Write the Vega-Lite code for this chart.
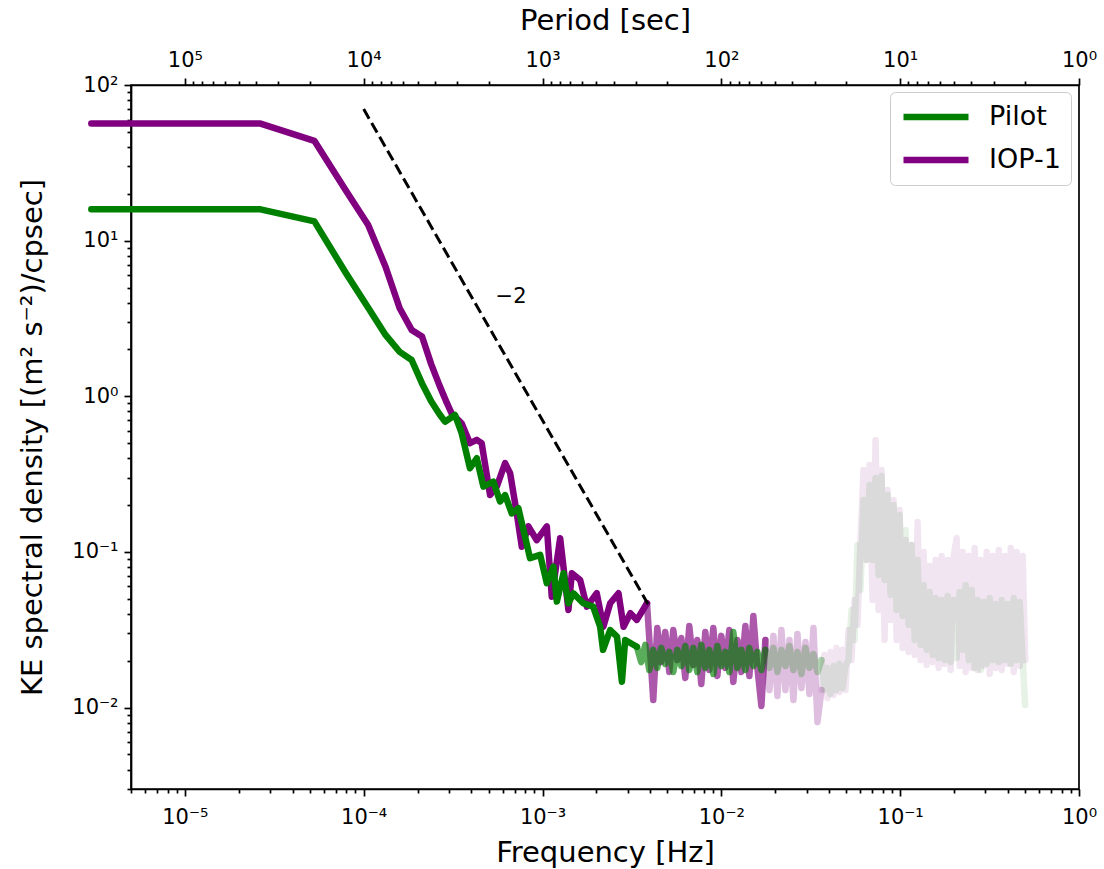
{
  "$schema": "https://vega.github.io/schema/vega-lite/v6.json",
  "width": 948,
  "height": 704,
  "autosize": {"type": "none"},
  "padding": {"left": 131, "top": 85, "right": 25, "bottom": 80},
  "background": "white",
  "config": {
    "font": "DejaVu Sans",
    "view": {"stroke": "black", "strokeWidth": 1.7},
    "axis": {
      "grid": false,
      "domainColor": "black",
      "domainWidth": 1.7,
      "tickColor": "black",
      "tickWidth": 1.7,
      "labelFont": "DejaVu Sans",
      "labelFontSize": 21,
      "labelColor": "black",
      "titleFont": "DejaVu Sans",
      "titleFontSize": 29,
      "titleFontWeight": "normal",
      "titleColor": "black",
      "labelOverlap": false,
      "labelFlush": false
    },
    "legend": {
      "symbolType": "stroke", "symbolSize": 4225, "symbolStrokeWidth": 6.5, "symbolOpacity": 1,
      "labelFont": "DejaVu Sans", "labelFontSize": 27, "labelColor": "black", "labelOffset": 17,
      "padding": 10, "strokeColor": "#cccccc", "fillColor": "rgba(255,255,255,0.8)",
      "cornerRadius": 5, "clipHeight": 30, "rowPadding": 13
    },
    "line": {"strokeWidth": 6.5, "strokeJoin": "round", "strokeCap": "round", "clip": true}
  },
  "datasets": {
    "spectra": [
      {"series":"IOP-1","seg":"a","f":3e-6,"psd":56.5},
      {"series":"IOP-1","seg":"a","f":2.65e-5,"psd":56.5},
      {"series":"IOP-1","seg":"a","f":5.3e-5,"psd":43.8},
      {"series":"IOP-1","seg":"a","f":7.95e-5,"psd":21},
      {"series":"IOP-1","seg":"a","f":1.06e-4,"psd":12.6},
      {"series":"IOP-1","seg":"a","f":1.325e-4,"psd":6.8},
      {"series":"IOP-1","seg":"a","f":1.59e-4,"psd":3.68},
      {"series":"IOP-1","seg":"a","f":1.855e-4,"psd":2.67},
      {"series":"IOP-1","seg":"a","f":2.12e-4,"psd":2.42},
      {"series":"IOP-1","seg":"a","f":2.385e-4,"psd":1.61},
      {"series":"IOP-1","seg":"a","f":2.65e-4,"psd":1.18},
      {"series":"IOP-1","seg":"a","f":2.915e-4,"psd":0.91},
      {"series":"IOP-1","seg":"a","f":3.1e-4,"psd":0.778},
      {"series":"IOP-1","seg":"a","f":3.53e-4,"psd":0.671},
      {"series":"IOP-1","seg":"a","f":3.93e-4,"psd":0.5},
      {"series":"IOP-1","seg":"a","f":4.29e-4,"psd":0.525},
      {"series":"IOP-1","seg":"a","f":4.57e-4,"psd":0.5},
      {"series":"IOP-1","seg":"a","f":5.09e-4,"psd":0.232},
      {"series":"IOP-1","seg":"a","f":5.55e-4,"psd":0.263},
      {"series":"IOP-1","seg":"a","f":6.18e-4,"psd":0.372},
      {"series":"IOP-1","seg":"a","f":6.59e-4,"psd":0.321},
      {"series":"IOP-1","seg":"a","f":7.18e-4,"psd":0.177},
      {"series":"IOP-1","seg":"a","f":7.66e-4,"psd":0.108},
      {"series":"IOP-1","seg":"a","f":8.34e-4,"psd":0.146},
      {"series":"IOP-1","seg":"a","f":9.29e-4,"psd":0.119},
      {"series":"IOP-1","seg":"a","f":1.057e-3,"psd":0.146},
      {"series":"IOP-1","seg":"a","f":1.127e-3,"psd":0.0516},
      {"series":"IOP-1","seg":"a","f":1.255e-3,"psd":0.1225},
      {"series":"IOP-1","seg":"a","f":1.396e-3,"psd":0.0424},
      {"series":"IOP-1","seg":"a","f":1.459e-3,"psd":0.073},
      {"series":"IOP-1","seg":"a","f":1.624e-3,"psd":0.0661},
      {"series":"IOP-1","seg":"a","f":1.77e-3,"psd":0.0445},
      {"series":"IOP-1","seg":"a","f":2.01e-3,"psd":0.0543},
      {"series":"IOP-1","seg":"a","f":2.19e-3,"psd":0.0331},
      {"series":"IOP-1","seg":"a","f":2.39e-3,"psd":0.0468},
      {"series":"IOP-1","seg":"a","f":2.66e-3,"psd":0.0543},
      {"series":"IOP-1","seg":"a","f":2.84e-3,"psd":0.0331},
      {"series":"IOP-1","seg":"a","f":3.1e-3,"psd":0.0404},
      {"series":"IOP-1","seg":"a","f":3.37e-3,"psd":0.0366},
      {"series":"IOP-1","seg":"a","f":3.84e-3,"psd":0.0468},
      {"series":"IOP-1","seg":"b","f":3.84e-3,"psd":0.0468},
      {"series":"IOP-1","seg":"b","f":4.162e-3,"psd":0.0112},
      {"series":"IOP-1","seg":"b","f":4.382e-3,"psd":0.0325},
      {"series":"IOP-1","seg":"b","f":4.614e-3,"psd":0.0196},
      {"series":"IOP-1","seg":"b","f":4.858e-3,"psd":0.0306},
      {"series":"IOP-1","seg":"b","f":5.115e-3,"psd":0.01693},
      {"series":"IOP-1","seg":"b","f":5.386e-3,"psd":0.0315},
      {"series":"IOP-1","seg":"b","f":5.671e-3,"psd":0.0202},
      {"series":"IOP-1","seg":"b","f":5.971e-3,"psd":0.028},
      {"series":"IOP-1","seg":"b","f":6.287e-3,"psd":0.0155},
      {"series":"IOP-1","seg":"b","f":6.62e-3,"psd":0.0334},
      {"series":"IOP-1","seg":"b","f":6.97e-3,"psd":0.0188},
      {"series":"IOP-1","seg":"b","f":7.339e-3,"psd":0.0272},
      {"series":"IOP-1","seg":"b","f":7.727e-3,"psd":0.01418},
      {"series":"IOP-1","seg":"b","f":8.136e-3,"psd":0.0306},
      {"series":"IOP-1","seg":"b","f":8.567e-3,"psd":0.01744},
      {"series":"IOP-1","seg":"b","f":9.02e-3,"psd":0.0325},
      {"series":"IOP-1","seg":"b","f":9.497e-3,"psd":0.01596},
      {"series":"IOP-1","seg":"b","f":0.01,"psd":0.0289},
      {"series":"IOP-1","seg":"b","f":0.010529,"psd":0.018},
      {"series":"IOP-1","seg":"b","f":0.011086,"psd":0.0315},
      {"series":"IOP-1","seg":"b","f":0.011673,"psd":0.01461},
      {"series":"IOP-1","seg":"b","f":0.012291,"psd":0.0272},
      {"series":"IOP-1","seg":"b","f":0.012941,"psd":0.01693},
      {"series":"IOP-1","seg":"b","f":0.013626,"psd":0.0334},
      {"series":"IOP-1","seg":"b","f":0.014347,"psd":0.01596},
      {"series":"IOP-1","seg":"b","f":0.015107,"psd":0.0388},
      {"series":"IOP-1","seg":"b","f":0.015906,"psd":0.018},
      {"series":"IOP-1","seg":"b","f":0.016748,"psd":0.01024},
      {"series":"IOP-1","seg":"b","f":0.017635,"psd":0.0272},
      {"series":"IOP-1","seg":"c","f":0.017635,"psd":0.0272},
      {"series":"IOP-1","seg":"c","f":0.018568,"psd":0.01297},
      {"series":"IOP-1","seg":"c","f":0.019551,"psd":0.0289},
      {"series":"IOP-1","seg":"c","f":0.020586,"psd":0.01187},
      {"series":"IOP-1","seg":"c","f":0.021675,"psd":0.0315},
      {"series":"IOP-1","seg":"c","f":0.022823,"psd":0.01297},
      {"series":"IOP-1","seg":"c","f":0.024031,"psd":0.0272},
      {"series":"IOP-1","seg":"c","f":0.025303,"psd":0.01119},
      {"series":"IOP-1","seg":"c","f":0.026642,"psd":0.0297},
      {"series":"IOP-1","seg":"c","f":0.028052,"psd":0.01336},
      {"series":"IOP-1","seg":"c","f":0.029537,"psd":0.0264},
      {"series":"IOP-1","seg":"c","f":0.0311,"psd":0.01223},
      {"series":"IOP-1","seg":"c","f":0.032746,"psd":0.0325},
      {"series":"IOP-1","seg":"c","f":0.03448,"psd":0.00808},
      {"series":"IOP-1","seg":"c","f":0.036305,"psd":0.01297},
      {"series":"IOP-1","seg":"d","f":0.036305,"psd":0.01297},
      {"series":"IOP-1","seg":"d","f":0.037737,"psd":0.0218},
      {"series":"IOP-1","seg":"d","f":0.039225,"psd":0.01153},
      {"series":"IOP-1","seg":"d","f":0.040772,"psd":0.0228},
      {"series":"IOP-1","seg":"d","f":0.04238,"psd":0.01205},
      {"series":"IOP-1","seg":"d","f":0.044051,"psd":0.0242},
      {"series":"IOP-1","seg":"d","f":0.045789,"psd":0.0126},
      {"series":"IOP-1","seg":"d","f":0.047594,"psd":0.0235},
      {"series":"IOP-1","seg":"d","f":0.049471,"psd":0.01297},
      {"series":"IOP-1","seg":"d","f":0.051422,"psd":0.0315},
      {"series":"IOP-1","seg":"d","f":0.05345,"psd":0.0202},
      {"series":"IOP-1","seg":"d","f":0.055558,"psd":0.0491},
      {"series":"IOP-1","seg":"d","f":0.057749,"psd":0.034},
      {"series":"IOP-1","seg":"d","f":0.060027,"psd":0.1194},
      {"series":"IOP-1","seg":"d","f":0.062394,"psd":0.3365},
      {"series":"IOP-1","seg":"d","f":0.064855,"psd":0.0888},
      {"series":"IOP-1","seg":"d","f":0.067413,"psd":0.3624},
      {"series":"IOP-1","seg":"d","f":0.070071,"psd":0.0491},
      {"series":"IOP-1","seg":"d","f":0.072835,"psd":0.5244},
      {"series":"IOP-1","seg":"d","f":0.075707,"psd":0.0424},
      {"series":"IOP-1","seg":"d","f":0.078693,"psd":0.3365},
      {"series":"IOP-1","seg":"d","f":0.081797,"psd":0.0272},
      {"series":"IOP-1","seg":"d","f":0.085023,"psd":0.2503},
      {"series":"IOP-1","seg":"d","f":0.088376,"psd":0.0366},
      {"series":"IOP-1","seg":"d","f":0.091861,"psd":0.2159},
      {"series":"IOP-1","seg":"d","f":0.095484,"psd":0.0272},
      {"series":"IOP-1","seg":"d","f":0.09925,"psd":0.1862},
      {"series":"IOP-1","seg":"d","f":0.103164,"psd":0.0242},
      {"series":"IOP-1","seg":"d","f":0.107233,"psd":0.1194},
      {"series":"IOP-1","seg":"d","f":0.111462,"psd":0.0228},
      {"series":"IOP-1","seg":"d","f":0.115858,"psd":0.1109},
      {"series":"IOP-1","seg":"d","f":0.120427,"psd":0.0218},
      {"series":"IOP-1","seg":"d","f":0.125177,"psd":0.1559},
      {"series":"IOP-1","seg":"d","f":0.130113,"psd":0.0202},
      {"series":"IOP-1","seg":"d","f":0.135245,"psd":0.1},
      {"series":"IOP-1","seg":"d","f":0.140579,"psd":0.0188},
      {"series":"IOP-1","seg":"d","f":0.146123,"psd":0.0813},
      {"series":"IOP-1","seg":"d","f":0.151886,"psd":0.0196},
      {"series":"IOP-1","seg":"d","f":0.157876,"psd":0.0888},
      {"series":"IOP-1","seg":"d","f":0.164102,"psd":0.018},
      {"series":"IOP-1","seg":"d","f":0.170574,"psd":0.0942},
      {"series":"IOP-1","seg":"d","f":0.177301,"psd":0.0191},
      {"series":"IOP-1","seg":"d","f":0.184294,"psd":0.0888},
      {"series":"IOP-1","seg":"d","f":0.191562,"psd":0.01744},
      {"series":"IOP-1","seg":"d","f":0.199117,"psd":0.0942},
      {"series":"IOP-1","seg":"d","f":0.20697,"psd":0.123},
      {"series":"IOP-1","seg":"d","f":0.215133,"psd":0.0185},
      {"series":"IOP-1","seg":"d","f":0.223617,"psd":0.1},
      {"series":"IOP-1","seg":"d","f":0.232436,"psd":0.01693},
      {"series":"IOP-1","seg":"d","f":0.241603,"psd":0.0942},
      {"series":"IOP-1","seg":"d","f":0.251131,"psd":0.018},
      {"series":"IOP-1","seg":"d","f":0.261035,"psd":0.1061},
      {"series":"IOP-1","seg":"d","f":0.27133,"psd":0.01744},
      {"series":"IOP-1","seg":"d","f":0.282031,"psd":0.0888},
      {"series":"IOP-1","seg":"d","f":0.293154,"psd":0.0185},
      {"series":"IOP-1","seg":"d","f":0.304716,"psd":0.1},
      {"series":"IOP-1","seg":"d","f":0.316733,"psd":0.01644},
      {"series":"IOP-1","seg":"d","f":0.329225,"psd":0.0942},
      {"series":"IOP-1","seg":"d","f":0.342209,"psd":0.018},
      {"series":"IOP-1","seg":"d","f":0.355705,"psd":0.103},
      {"series":"IOP-1","seg":"d","f":0.369733,"psd":0.01744},
      {"series":"IOP-1","seg":"d","f":0.384315,"psd":0.0942},
      {"series":"IOP-1","seg":"d","f":0.399471,"psd":0.0191},
      {"series":"IOP-1","seg":"d","f":0.415226,"psd":0.1061},
      {"series":"IOP-1","seg":"d","f":0.431601,"psd":0.01693},
      {"series":"IOP-1","seg":"d","f":0.448623,"psd":0.1},
      {"series":"IOP-1","seg":"d","f":0.466316,"psd":0.0185},
      {"series":"IOP-1","seg":"d","f":0.484707,"psd":0.0942},
      {"series":"IOP-1","seg":"d","f":0.5,"psd":0.0202},
      {"series":"Pilot","seg":"a","f":3e-6,"psd":15.9},
      {"series":"Pilot","seg":"a","f":2.65e-5,"psd":15.9},
      {"series":"Pilot","seg":"a","f":5.3e-5,"psd":13.3},
      {"series":"Pilot","seg":"a","f":7.95e-5,"psd":6.2},
      {"series":"Pilot","seg":"a","f":1.06e-4,"psd":3.7},
      {"series":"Pilot","seg":"a","f":1.325e-4,"psd":2.48},
      {"series":"Pilot","seg":"a","f":1.59e-4,"psd":1.93},
      {"series":"Pilot","seg":"a","f":1.855e-4,"psd":1.71},
      {"series":"Pilot","seg":"a","f":2.12e-4,"psd":1.21},
      {"series":"Pilot","seg":"a","f":2.385e-4,"psd":0.93},
      {"series":"Pilot","seg":"a","f":2.65e-4,"psd":0.77},
      {"series":"Pilot","seg":"a","f":2.85e-4,"psd":0.687},
      {"series":"Pilot","seg":"a","f":3.24e-4,"psd":0.759},
      {"series":"Pilot","seg":"a","f":3.53e-4,"psd":0.58},
      {"series":"Pilot","seg":"a","f":3.93e-4,"psd":0.345},
      {"series":"Pilot","seg":"a","f":4.29e-4,"psd":0.4},
      {"series":"Pilot","seg":"a","f":4.67e-4,"psd":0.263},
      {"series":"Pilot","seg":"a","f":5.31e-4,"psd":0.283},
      {"series":"Pilot","seg":"a","f":5.79e-4,"psd":0.211},
      {"series":"Pilot","seg":"a","f":6.18e-4,"psd":0.232},
      {"series":"Pilot","seg":"a","f":6.73e-4,"psd":0.177},
      {"series":"Pilot","seg":"a","f":7.33e-4,"psd":0.191},
      {"series":"Pilot","seg":"a","f":8.52e-4,"psd":0.0912},
      {"series":"Pilot","seg":"a","f":9.7e-4,"psd":0.0958},
      {"series":"Pilot","seg":"a","f":1.057e-3,"psd":0.063},
      {"series":"Pilot","seg":"a","f":1.151e-3,"psd":0.0804},
      {"series":"Pilot","seg":"a","f":1.203e-3,"psd":0.048},
      {"series":"Pilot","seg":"a","f":1.31e-3,"psd":0.073},
      {"series":"Pilot","seg":"a","f":1.396e-3,"psd":0.0468},
      {"series":"Pilot","seg":"a","f":1.49e-3,"psd":0.0542},
      {"series":"Pilot","seg":"a","f":1.69e-3,"psd":0.0468},
      {"series":"Pilot","seg":"a","f":1.92e-3,"psd":0.0445},
      {"series":"Pilot","seg":"a","f":2.1e-3,"psd":0.0331},
      {"series":"Pilot","seg":"a","f":2.18e-3,"psd":0.0235},
      {"series":"Pilot","seg":"a","f":2.39e-3,"psd":0.0315},
      {"series":"Pilot","seg":"a","f":2.61e-3,"psd":0.0286},
      {"series":"Pilot","seg":"a","f":2.78e-3,"psd":0.01467},
      {"series":"Pilot","seg":"a","f":2.9e-3,"psd":0.0272},
      {"series":"Pilot","seg":"a","f":3.37e-3,"psd":0.0246},
      {"series":"Pilot","seg":"b","f":3.37e-3,"psd":0.0246},
      {"series":"Pilot","seg":"b","f":3.565e-3,"psd":0.0196},
      {"series":"Pilot","seg":"b","f":3.754e-3,"psd":0.0253},
      {"series":"Pilot","seg":"b","f":3.953e-3,"psd":0.01744},
      {"series":"Pilot","seg":"b","f":4.162e-3,"psd":0.0235},
      {"series":"Pilot","seg":"b","f":4.382e-3,"psd":0.018},
      {"series":"Pilot","seg":"b","f":4.614e-3,"psd":0.0242},
      {"series":"Pilot","seg":"b","f":4.858e-3,"psd":0.0191},
      {"series":"Pilot","seg":"b","f":5.115e-3,"psd":0.0228},
      {"series":"Pilot","seg":"b","f":5.386e-3,"psd":0.01693},
      {"series":"Pilot","seg":"b","f":5.671e-3,"psd":0.0235},
      {"series":"Pilot","seg":"b","f":5.971e-3,"psd":0.0185},
      {"series":"Pilot","seg":"b","f":6.287e-3,"psd":0.0249},
      {"series":"Pilot","seg":"b","f":6.62e-3,"psd":0.01744},
      {"series":"Pilot","seg":"b","f":6.97e-3,"psd":0.0242},
      {"series":"Pilot","seg":"b","f":7.339e-3,"psd":0.01693},
      {"series":"Pilot","seg":"b","f":7.727e-3,"psd":0.0253},
      {"series":"Pilot","seg":"b","f":8.136e-3,"psd":0.018},
      {"series":"Pilot","seg":"b","f":8.567e-3,"psd":0.0235},
      {"series":"Pilot","seg":"b","f":9.02e-3,"psd":0.01644},
      {"series":"Pilot","seg":"b","f":9.497e-3,"psd":0.0249},
      {"series":"Pilot","seg":"b","f":0.01,"psd":0.0185},
      {"series":"Pilot","seg":"b","f":0.010529,"psd":0.0228},
      {"series":"Pilot","seg":"b","f":0.011086,"psd":0.01693},
      {"series":"Pilot","seg":"b","f":0.011673,"psd":0.0306},
      {"series":"Pilot","seg":"b","f":0.012291,"psd":0.018},
      {"series":"Pilot","seg":"b","f":0.012941,"psd":0.0235},
      {"series":"Pilot","seg":"b","f":0.013626,"psd":0.01744},
      {"series":"Pilot","seg":"b","f":0.014347,"psd":0.0242},
      {"series":"Pilot","seg":"b","f":0.015107,"psd":0.0185},
      {"series":"Pilot","seg":"b","f":0.015906,"psd":0.0228},
      {"series":"Pilot","seg":"b","f":0.016748,"psd":0.01744},
      {"series":"Pilot","seg":"b","f":0.017635,"psd":0.0235},
      {"series":"Pilot","seg":"c","f":0.017635,"psd":0.0235},
      {"series":"Pilot","seg":"c","f":0.018568,"psd":0.018},
      {"series":"Pilot","seg":"c","f":0.019551,"psd":0.0242},
      {"series":"Pilot","seg":"c","f":0.020586,"psd":0.01693},
      {"series":"Pilot","seg":"c","f":0.021675,"psd":0.0235},
      {"series":"Pilot","seg":"c","f":0.022823,"psd":0.0185},
      {"series":"Pilot","seg":"c","f":0.024031,"psd":0.0249},
      {"series":"Pilot","seg":"c","f":0.025303,"psd":0.01744},
      {"series":"Pilot","seg":"c","f":0.026642,"psd":0.0228},
      {"series":"Pilot","seg":"c","f":0.028052,"psd":0.01644},
      {"series":"Pilot","seg":"c","f":0.029537,"psd":0.0242},
      {"series":"Pilot","seg":"c","f":0.0311,"psd":0.018},
      {"series":"Pilot","seg":"c","f":0.032746,"psd":0.0221},
      {"series":"Pilot","seg":"c","f":0.03448,"psd":0.01693},
      {"series":"Pilot","seg":"c","f":0.036305,"psd":0.0202},
      {"series":"Pilot","seg":"d","f":0.036305,"psd":0.0202},
      {"series":"Pilot","seg":"d","f":0.037737,"psd":0.01297},
      {"series":"Pilot","seg":"d","f":0.039225,"psd":0.018},
      {"series":"Pilot","seg":"d","f":0.040772,"psd":0.01223},
      {"series":"Pilot","seg":"d","f":0.04238,"psd":0.0185},
      {"series":"Pilot","seg":"d","f":0.044051,"psd":0.01297},
      {"series":"Pilot","seg":"d","f":0.045789,"psd":0.0191},
      {"series":"Pilot","seg":"d","f":0.047594,"psd":0.01336},
      {"series":"Pilot","seg":"d","f":0.049471,"psd":0.0185},
      {"series":"Pilot","seg":"d","f":0.051422,"psd":0.0202},
      {"series":"Pilot","seg":"d","f":0.05345,"psd":0.0424},
      {"series":"Pilot","seg":"d","f":0.055558,"psd":0.0272},
      {"series":"Pilot","seg":"d","f":0.057749,"psd":0.1109},
      {"series":"Pilot","seg":"d","f":0.060027,"psd":0.057},
      {"series":"Pilot","seg":"d","f":0.062394,"psd":0.2159},
      {"series":"Pilot","seg":"d","f":0.064855,"psd":0.0888},
      {"series":"Pilot","seg":"d","f":0.067413,"psd":0.2695},
      {"series":"Pilot","seg":"d","f":0.070071,"psd":0.0888},
      {"series":"Pilot","seg":"d","f":0.072835,"psd":0.299},
      {"series":"Pilot","seg":"d","f":0.075707,"psd":0.0712},
      {"series":"Pilot","seg":"d","f":0.078693,"psd":0.3079},
      {"series":"Pilot","seg":"d","f":0.081797,"psd":0.0661},
      {"series":"Pilot","seg":"d","f":0.085023,"psd":0.2324},
      {"series":"Pilot","seg":"d","f":0.088376,"psd":0.0529},
      {"series":"Pilot","seg":"d","f":0.091861,"psd":0.2004},
      {"series":"Pilot","seg":"d","f":0.095484,"psd":0.0424},
      {"series":"Pilot","seg":"d","f":0.09925,"psd":0.1729},
      {"series":"Pilot","seg":"d","f":0.103164,"psd":0.0388},
      {"series":"Pilot","seg":"d","f":0.107233,"psd":0.1385},
      {"series":"Pilot","seg":"d","f":0.111462,"psd":0.034},
      {"series":"Pilot","seg":"d","f":0.115858,"psd":0.1109},
      {"series":"Pilot","seg":"d","f":0.120427,"psd":0.0272},
      {"series":"Pilot","seg":"d","f":0.125177,"psd":0.0888},
      {"series":"Pilot","seg":"d","f":0.130113,"psd":0.0253},
      {"series":"Pilot","seg":"d","f":0.135245,"psd":0.0614},
      {"series":"Pilot","seg":"d","f":0.140579,"psd":0.0235},
      {"series":"Pilot","seg":"d","f":0.146123,"psd":0.0553},
      {"series":"Pilot","seg":"d","f":0.151886,"psd":0.0218},
      {"series":"Pilot","seg":"d","f":0.157876,"psd":0.0506},
      {"series":"Pilot","seg":"d","f":0.164102,"psd":0.0208},
      {"series":"Pilot","seg":"d","f":0.170574,"psd":0.0491},
      {"series":"Pilot","seg":"d","f":0.177301,"psd":0.0202},
      {"series":"Pilot","seg":"d","f":0.184294,"psd":0.0522},
      {"series":"Pilot","seg":"d","f":0.191562,"psd":0.0196},
      {"series":"Pilot","seg":"d","f":0.199117,"psd":0.0491},
      {"series":"Pilot","seg":"d","f":0.20697,"psd":0.0208},
      {"series":"Pilot","seg":"d","f":0.215133,"psd":0.0553},
      {"series":"Pilot","seg":"d","f":0.223617,"psd":0.0235},
      {"series":"Pilot","seg":"d","f":0.232436,"psd":0.0614},
      {"series":"Pilot","seg":"d","f":0.241603,"psd":0.0202},
      {"series":"Pilot","seg":"d","f":0.251131,"psd":0.057},
      {"series":"Pilot","seg":"d","f":0.261035,"psd":0.018},
      {"series":"Pilot","seg":"d","f":0.27133,"psd":0.0491},
      {"series":"Pilot","seg":"d","f":0.282031,"psd":0.01744},
      {"series":"Pilot","seg":"d","f":0.293154,"psd":0.0477},
      {"series":"Pilot","seg":"d","f":0.304716,"psd":0.0191},
      {"series":"Pilot","seg":"d","f":0.316733,"psd":0.0506},
      {"series":"Pilot","seg":"d","f":0.329225,"psd":0.0202},
      {"series":"Pilot","seg":"d","f":0.342209,"psd":0.0463},
      {"series":"Pilot","seg":"d","f":0.355705,"psd":0.0196},
      {"series":"Pilot","seg":"d","f":0.369733,"psd":0.0491},
      {"series":"Pilot","seg":"d","f":0.384315,"psd":0.0202},
      {"series":"Pilot","seg":"d","f":0.399471,"psd":0.0463},
      {"series":"Pilot","seg":"d","f":0.415226,"psd":0.0191},
      {"series":"Pilot","seg":"d","f":0.431601,"psd":0.0506},
      {"series":"Pilot","seg":"d","f":0.448623,"psd":0.0202},
      {"series":"Pilot","seg":"d","f":0.466316,"psd":0.0477},
      {"series":"Pilot","seg":"d","f":0.484707,"psd":0.0196},
      {"series":"Pilot","seg":"d","f":0.5,"psd":0.01039}
    ],
    "slope": [
      {"f": 1e-4, "psd": 70},
      {"f": 3.95e-3, "psd": 0.0449}
    ],
    "annot": [
      {"f": 6.67e-4, "psd": 4.35, "label": "−2"}
    ],
    "periods": [
      {"period": 100}
    ]
  },
  "layer": [
    {
      "encoding": {
        "x": {
          "field": "f",
          "type": "quantitative",
          "scale": {"type": "log", "domain": [5e-6, 1], "nice": false},
          "axis": {
            "orient": "bottom",
            "title": "Frequency [Hz]",
            "values": [5e-6,6e-6,7e-6,8e-6,9e-6,1e-5,2e-5,3e-5,4e-5,5e-5,6e-5,7e-5,8e-5,9e-5,1e-4,2e-4,3e-4,4e-4,5e-4,6e-4,7e-4,8e-4,9e-4,1e-3,2e-3,3e-3,4e-3,5e-3,6e-3,7e-3,8e-3,9e-3,0.01,0.02,0.03,0.04,0.05,0.06,0.07,0.08,0.09,0.1,0.2,0.3,0.4,0.5,0.6,0.7,0.8,0.9,1],
            "labelExpr": "abs(log(datum.value)/LN10 - round(log(datum.value)/LN10)) < 0.01 ? '10' + replace(replace(replace(replace(replace(replace(replace('' + round(log(datum.value)/LN10), '-', '⁻'), '0', '⁰'), '1', '¹'), '2', '²'), '3', '³'), '4', '⁴'), '5', '⁵') : ''",
            "tickSize": {"condition": {"test": "abs(log(datum.value)/LN10 - round(log(datum.value)/LN10)) < 0.01", "value": 7}, "value": 4},
            "labelPadding": 10,
            "titlePadding": 11
          }
        },
        "y": {
          "field": "psd",
          "type": "quantitative",
          "scale": {"type": "log", "domain": [0.003, 100], "nice": false},
          "axis": {
            "title": "KE spectral density [(m² s⁻²)/cpsec]",
            "values": [0.003,0.004,0.005,0.006,0.007,0.008,0.009,0.01,0.02,0.03,0.04,0.05,0.06,0.07,0.08,0.09,0.1,0.2,0.3,0.4,0.5,0.6,0.7,0.8,0.9,1,2,3,4,5,6,7,8,9,10,20,30,40,50,60,70,80,90,100],
            "labelExpr": "abs(log(datum.value)/LN10 - round(log(datum.value)/LN10)) < 0.01 ? '10' + replace(replace(replace(replace(replace(replace(replace('' + round(log(datum.value)/LN10), '-', '⁻'), '0', '⁰'), '1', '¹'), '2', '²'), '3', '³'), '4', '⁴'), '5', '⁵') : ''",
            "tickSize": {"condition": {"test": "abs(log(datum.value)/LN10 - round(log(datum.value)/LN10)) < 0.01", "value": 7}, "value": 4},
            "labelPadding": 6,
            "titlePadding": 24
          }
        },
        "color": {
          "field": "series", "type": "nominal",
          "scale": {"domain": ["Pilot", "IOP-1"], "range": ["#008000", "#800080"]},
          "legend": {"orient": "none", "legendX": 759, "legendY": 7, "title": null}
        }
      },
      "layer": [
        {
          "data": {"name": "spectra"},
          "transform": [{"filter": "datum.series == 'IOP-1' && datum.seg == 'a'"}],
          "mark": {"type": "line", "opacity": 1},
          "encoding": {}
        },
        {
          "data": {"name": "spectra"},
          "transform": [{"filter": "datum.series == 'Pilot' && datum.seg == 'a'"}],
          "mark": {"type": "line", "opacity": 1},
          "encoding": {}
        },
        {
          "data": {"name": "spectra"},
          "transform": [{"filter": "datum.series == 'IOP-1' && datum.seg == 'b'"}],
          "mark": {"type": "line", "opacity": 0.65},
          "encoding": {}
        },
        {
          "data": {"name": "spectra"},
          "transform": [{"filter": "datum.series == 'Pilot' && datum.seg == 'b'"}],
          "mark": {"type": "line", "opacity": 0.65},
          "encoding": {}
        },
        {
          "data": {"name": "spectra"},
          "transform": [{"filter": "datum.series == 'IOP-1' && datum.seg == 'c'"}],
          "mark": {"type": "line", "opacity": 0.25},
          "encoding": {}
        },
        {
          "data": {"name": "spectra"},
          "transform": [{"filter": "datum.series == 'Pilot' && datum.seg == 'c'"}],
          "mark": {"type": "line", "opacity": 0.25},
          "encoding": {}
        },
        {
          "data": {"name": "spectra"},
          "transform": [{"filter": "datum.series == 'IOP-1' && datum.seg == 'd'"}],
          "mark": {"type": "line", "opacity": 0.1},
          "encoding": {}
        },
        {
          "data": {"name": "spectra"},
          "transform": [{"filter": "datum.series == 'Pilot' && datum.seg == 'd'"}],
          "mark": {"type": "line", "opacity": 0.1},
          "encoding": {}
        },
        {
          "data": {"name": "slope"},
          "mark": {"type": "line", "color": "black", "strokeWidth": 3, "strokeDash": [11, 5], "strokeCap": "butt", "clip": true},
          "encoding": {"color": {"value": "black"}}
        },
        {
          "data": {"name": "annot"},
          "mark": {"type": "text", "font": "DejaVu Sans", "fontSize": 21, "align": "center", "baseline": "middle"},
          "encoding": {"text": {"field": "label", "type": "nominal"}, "color": {"value": "black"}}
        }
      ]
    },
    {
      "data": {"name": "periods"},
      "mark": {"type": "point", "opacity": 0},
      "encoding": {
        "x": {
          "field": "period",
          "type": "quantitative",
          "scale": {"type": "log", "domain": [200000, 1], "nice": false},
          "axis": {
            "orient": "top",
            "title": "Period [sec]",
            "values": [1,2,3,4,5,6,7,8,9,10,20,30,40,50,60,70,80,90,100,200,300,400,500,600,700,800,900,1000,2000,3000,4000,5000,6000,7000,8000,9000,10000,20000,30000,40000,50000,60000,70000,80000,90000,100000],
            "labelExpr": "abs(log(datum.value)/LN10 - round(log(datum.value)/LN10)) < 0.01 ? '10' + replace(replace(replace(replace(replace(replace(replace('' + round(log(datum.value)/LN10), '-', '⁻'), '0', '⁰'), '1', '¹'), '2', '²'), '3', '³'), '4', '⁴'), '5', '⁵') : ''",
            "tickSize": {"condition": {"test": "abs(log(datum.value)/LN10 - round(log(datum.value)/LN10)) < 0.01", "value": 7}, "value": 4},
            "labelPadding": 8,
            "titlePadding": 14
          }
        }
      }
    }
  ],
  "resolve": {"scale": {"x": "independent"}, "axis": {"x": "independent"}}
}
